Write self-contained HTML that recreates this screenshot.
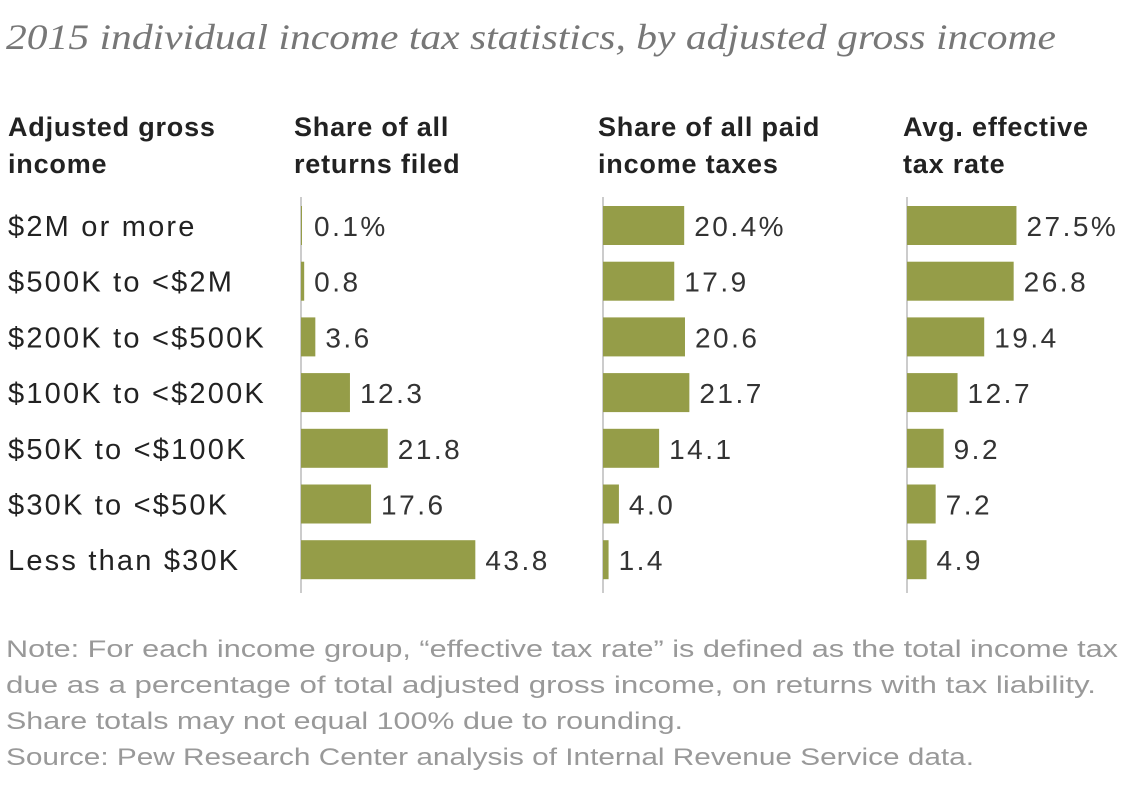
<!DOCTYPE html>
<html><head><meta charset="utf-8">
<style>
body{margin:0;background:#fff;}
svg{display:block;font-family:"Liberation Sans",sans-serif;}
</style></head>
<body>
<svg id="chart" width="1125" height="799" viewBox="0 0 1125 799">
<text x="6" y="49" font-family="Liberation Serif,serif" font-style="italic" font-size="36" fill="#777" textLength="1050" lengthAdjust="spacingAndGlyphs">2015 individual income tax statistics, by adjusted gross income</text>
<g font-weight="bold" font-size="27" fill="#222" letter-spacing="0.8">
<text x="8" y="136"><tspan x="8">Adjusted gross</tspan><tspan x="8" dy="37">income</tspan></text>
<text x="294" y="136"><tspan x="294">Share of all</tspan><tspan x="294" dy="37">returns filed</tspan></text>
<text x="598" y="136"><tspan x="598">Share of all paid</tspan><tspan x="598" dy="37">income taxes</tspan></text>
<text x="903" y="136"><tspan x="903">Avg. effective</tspan><tspan x="903" dy="37">tax rate</tspan></text>
</g>
<g id="rows"></g>
<g font-size="24" fill="#999">
<text x="6" y="657" textLength="1112" lengthAdjust="spacingAndGlyphs">Note: For each income group, “effective tax rate” is defined as the total income tax</text>
<text x="6" y="693" textLength="1090" lengthAdjust="spacingAndGlyphs">due as a percentage of total adjusted gross income, on returns with tax liability.</text>
<text x="6" y="729" textLength="677" lengthAdjust="spacingAndGlyphs">Share totals may not equal 100% due to rounding.</text>
<text x="6" y="765" textLength="968" lengthAdjust="spacingAndGlyphs">Source: Pew Research Center analysis of Internal Revenue Service data.</text>
</g>
</svg>
<script>
const categories=["$2M or more","$500K to <$2M","$200K to <$500K","$100K to <$200K","$50K to <$100K","$30K to <$50K","Less than $30K"];
const returnsShare=[0.1,0.8,3.6,12.3,21.8,17.6,43.8];
const taxesShare=[20.4,17.9,20.6,21.7,14.1,4.0,1.4];
const effRate=[27.5,26.8,19.4,12.7,9.2,7.2,4.9];
const returnsLabels=["0.1%","0.8","3.6","12.3","21.8","17.6","43.8"];
const taxesLabels=["20.4%","17.9","20.6","21.7","14.1","4.0","1.4"];
const rateLabels=["27.5%","26.8","19.4","12.7","9.2","7.2","4.9"];
const NS="http://www.w3.org/2000/svg";
const g=document.getElementById('rows');
const scale=3.98;
const xFor=(base,v)=>base+v*scale;
const yFor=i=>206+i*55.7;
const barH=39;
function mk(tag,attrs){const e=document.createElementNS(NS,tag);for(const k in attrs)e.setAttribute(k,attrs[k]);g.appendChild(e);return e;}
categories.forEach((c,i)=>{
  const t=mk('text',{x:8,y:yFor(i)+30,'font-size':29,fill:'#222','letter-spacing':2.2});
  t.textContent=c;
  
  
});
const cols=[{base:301,vals:returnsShare,labels:returnsLabels,name:'returns'},{base:603,vals:taxesShare,labels:taxesLabels,name:'taxes'},{base:907,vals:effRate,labels:rateLabels,name:'rate'}];
cols.forEach(col=>{
  const ax=mk('line',{x1:col.base,x2:col.base,y1:197,y2:593,stroke:'#bbb','stroke-width':1.5});
  
  
  col.vals.forEach((v,i)=>{
    const w=Math.max(xFor(col.base,v)-col.base,1);
    const r=mk('rect',{x:col.base,y:yFor(i),width:w,height:barH,fill:'#959d48'});
    
    
    const t=mk('text',{x:col.base+Math.max(w,3)+10,y:yFor(i)+30,'font-size':28,fill:'#333','letter-spacing':2.5});
    t.textContent=col.labels[i];
    
    
  });
});
</script>
</body></html>
